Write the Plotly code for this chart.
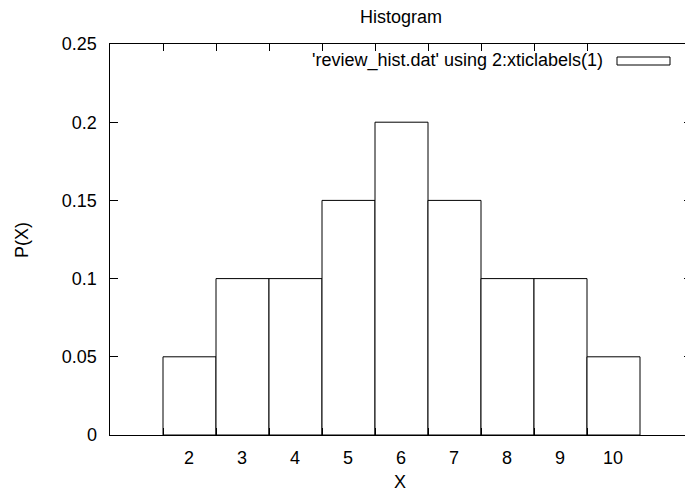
import plotly.graph_objects as go

labels = ["2", "3", "4", "5", "6", "7", "8", "9", "10"]
probs = [0.05, 0.10, 0.10, 0.15, 0.20, 0.15, 0.10, 0.10, 0.05]
yticks = [0, 0.05, 0.10, 0.15, 0.20, 0.25]
ytick_text = ["0", "0.05", "0.1", "0.15", "0.2", "0.25"]
legend_label = "'review_hist.dat' using 2:xticlabels(1)"

xs = list(range(len(labels)))
edges = [i - 0.5 for i in xs]

FONT = "Liberation Sans"
FS = 18

W, H = 685, 493
L, R, T, B = 110, 0, 44, 58
pw, ph = W - L - R, H - T - B
unit = 53.0
xmin = -1.5
xmax = xmin + pw / unit

def px(x):
    return (x - L) / pw

def py(y):
    return (H - B - y) / ph

fig = go.Figure()
fig.add_trace(go.Bar(
    x=xs, y=probs, width=1.0,
    marker=dict(color="white", line=dict(color="black", width=1)),
    showlegend=False, hoverinfo="skip",
))
fig.add_trace(go.Scatter(x=[None], y=[None], yaxis="y2", showlegend=False,
                         hoverinfo="skip", mode="lines"))

fig.update_layout(
    width=W, height=H,
    margin=dict(l=L, r=R, t=T, b=B, pad=0, autoexpand=False),
    paper_bgcolor="white", plot_bgcolor="white",
    font=dict(family=FONT, size=FS, color="black"),
    showlegend=False,
    title=dict(text="Histogram", x=401 / W, xanchor="center",
               y=1 - 17 / H, yanchor="middle",
               font=dict(family=FONT, size=FS, color="black")),
    bargap=0,
    xaxis=dict(
        range=[xmin, xmax], showgrid=False, zeroline=False, automargin=False,
        showline=True, linecolor="black", linewidth=1.2, mirror="ticks",
        tickmode="array", tickvals=edges, ticktext=labels,
        ticks="inside", ticklen=7, tickwidth=1, tickcolor="black",
        ticklabelshift=int(round(unit / 2)), ticklabelstandoff=6,
    ),
    yaxis=dict(
        range=[0, 0.25], showgrid=False, zeroline=False, automargin=False,
        showline=True, linecolor="black", linewidth=1.5,
        tickmode="array", tickvals=yticks, ticktext=ytick_text,
        ticks="inside", ticklen=8, tickwidth=1, tickcolor="black",
        ticklabelstandoff=8,
    ),
    yaxis2=dict(
        range=[0, 0.25], overlaying="y", side="right", anchor="x",
        showgrid=False, zeroline=False, showline=False, automargin=False,
        tickmode="array", tickvals=yticks[1:-1], showticklabels=False,
        ticks="inside", ticklen=1, tickwidth=1, tickcolor="black",
    ),
)

# axis titles
fig.add_annotation(
    text="X", xref="paper", yref="paper", x=px(400), y=py(482),
    xanchor="center", yanchor="middle", showarrow=False,
    font=dict(family=FONT, size=FS, color="black"),
)
fig.add_annotation(
    text="P(X)", xref="paper", yref="paper", x=px(22), y=py(240),
    xanchor="center", yanchor="middle", showarrow=False, textangle=-90,
    font=dict(family=FONT, size=FS, color="black"),
)

# legend
fig.add_annotation(
    text=legend_label, xref="paper", yref="paper",
    x=px(605), y=py(61), xanchor="right", yanchor="middle",
    showarrow=False, font=dict(family=FONT, size=FS, color="black"),
)
fig.add_shape(
    type="rect", xref="paper", yref="paper",
    x0=px(617), x1=px(670), y0=py(65), y1=py(57),
    line=dict(color="black", width=1), fillcolor="white",
)

fig.write_html(
    "out.html",
    config={"displayModeBar": False, "staticPlot": True},
    post_script="document.body.style.margin='0';document.body.style.overflow='hidden';",
)
